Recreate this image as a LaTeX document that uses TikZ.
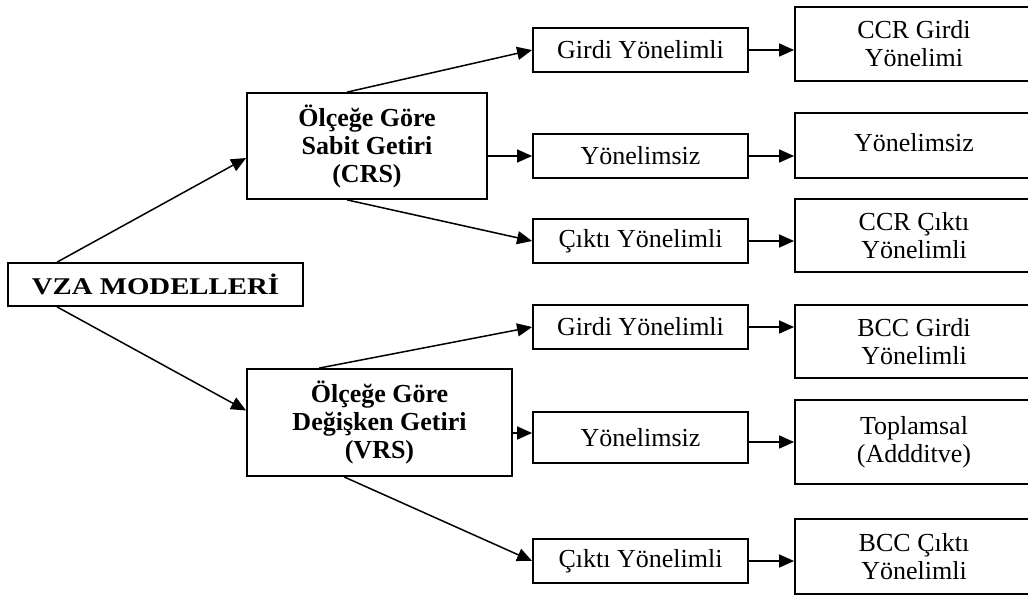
\documentclass[tikz,border=0pt]{standalone}
\usepackage{fontspec}
\setmainfont{Liberation Serif}
\usetikzlibrary{arrows.meta}
\tikzset{
  box/.style={draw=black, line width=1.8pt, inner sep=0pt, align=center,
    font=\fontsize{26}{28}\selectfont},
  midbox/.style={box, minimum width=215pt, minimum height=44pt},
  rightbox/.style={box, minimum width=238pt},
  bigbox/.style={box, font=\fontsize{26}{28}\selectfont\bfseries},
  conn/.style={line width=1.5pt, -{Triangle[length=15pt,width=13pt]}}
}
\begin{document}
\begin{tikzpicture}[x=1pt,y=-1pt]
\useasboundingbox (0,0) rectangle (1028,595);
\clip (0,0) rectangle (1028,595);
% left
\node[box, minimum width=295pt, minimum height=43pt] (vza) at (155.5,284.5)
  {\fontsize{24}{26}\selectfont\bfseries\scalebox{1.2}[1]{VZA MODELLERİ}};
\node[bigbox, minimum width=240pt, minimum height=106pt] (crs) at (367,146)
  {Ölçeğe Göre\\Sabit Getiri\\(CRS)};
\node[bigbox, minimum width=265pt, minimum height=107pt] (vrs) at (379.5,422.5)
  {Ölçeğe Göre\\Değişken Getiri\\(VRS)};
% middle
\node[midbox] (g1) at (640.5,50) {Girdi Yönelimli};
\node[midbox] (y1) at (640.5,156) {Yönelimsiz};
\node[midbox] (c1) at (640.5,241) {Çıktı Yönelimli};
\node[midbox] (g2) at (640.5,327) {Girdi Yönelimli};
\node[midbox, minimum height=51pt] (y2) at (640.5,437.5) {Yönelimsiz};
\node[midbox] (c2) at (640.5,561) {Çıktı Yönelimli};
% right
\node[rightbox, minimum height=74pt] (r1) at (914,44) {CCR Girdi\\Yönelimi};
\node[rightbox, minimum height=65pt] (r2) at (914,145.5) {\raisebox{6pt}{Yönelimsiz}};
\node[rightbox, minimum height=73pt] (r3) at (914,235.5) {CCR Çıktı\\Yönelimli};
\node[rightbox, minimum height=73pt] (r4) at (914,341.5) {BCC Girdi\\Yönelimli};
\node[rightbox, minimum height=84pt] (r5) at (914,442) {Toplamsal\\(Addditve)};
\node[rightbox, minimum height=75pt] (r6) at (914,556.5) {BCC Çıktı\\Yönelimli};
% connectors
\draw[conn] ([xshift=50pt]vza.north west) -- ([yshift=-12pt]crs.west);
\draw[conn] ([xshift=50pt]vza.south west) -- ([yshift=12pt]vrs.west);
\draw[conn] ([xshift=101pt]crs.north west) -- (g1.west);
\draw[conn] (crs.east |- y1.west) -- (y1.west);
\draw[conn] ([xshift=101pt]crs.south west) -- (c1.west);
\draw[conn] ([xshift=73pt]vrs.north west) -- (g2.west);
\draw[conn] (vrs.east |- y2.west) ++(0,-4.5) coordinate (va) -- (va -| y2.west);
\draw[conn] ([xshift=98pt]vrs.south west) -- (c2.west);
\draw[conn] (g1.east) -- (g1.east -| r1.west);
\draw[conn] (y1.east) -- (y1.east -| r2.west);
\draw[conn] (c1.east) -- (c1.east -| r3.west);
\draw[conn] (g2.east) -- (g2.east -| r4.west);
\draw[conn] (y2.east |- r5.west) -- (r5.west);
\draw[conn] (c2.east) -- (c2.east -| r6.west);
\end{tikzpicture}
\end{document}
